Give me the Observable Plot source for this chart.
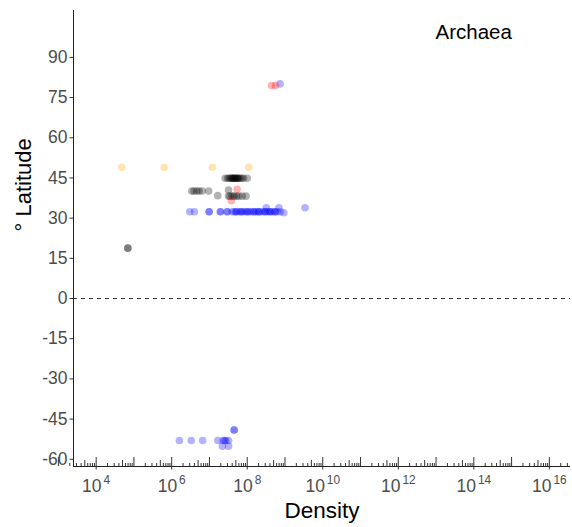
<!DOCTYPE html>
<html><head><meta charset="utf-8">
<script src="https://cdn.jsdelivr.net/npm/d3@7"></script>
<script src="https://cdn.jsdelivr.net/npm/@observablehq/plot@0.6"></script>
<style>
body{margin:0;background:#fff;}
#chart svg{font-family:"Liberation Sans",Arial,sans-serif;}
</style>
</head><body><div id="chart"></div>
<script>
// ---- data (density in cells, latitude in degrees) ----
const blackDensity = [6.9e4, 6.9e4,
  3.4e6, 3.9e6, 4.6e6, 5.3e6, 6.4e6, 9.5e6,
  3.2e7, 1.66e7,
  3.2e7, 3.5e7, 4.0e7, 4.5e7, 5.2e7, 6.0e7, 7.4e7, 9.3e7,
  2.6e7, 3.0e7, 3.3e7, 3.6e7, 3.9e7, 4.2e7, 4.5e7, 4.8e7, 5.2e7, 5.6e7, 6.0e7, 6.5e7, 7.2e7, 8.0e7, 4.0e7, 4.6e7, 5.4e7, 1.0e8];
const blackLat = [18.8, 18.8,
  40.1, 40.1, 40.1, 40.1, 40.1, 40.1,
  40.5, 38.4,
  38.2, 38.2, 38.2, 38.2, 38.2, 38.2, 38.2, 38.2,
  44.9, 44.9, 44.9, 44.9, 44.9, 44.9, 44.9, 44.9, 44.9, 44.9, 44.9, 44.9, 44.9, 44.9, 44.9, 44.9, 44.9, 44.9];

const blueDensity = [3.0e6, 4.0e6, 9.8e6, 9.8e6, 1.95e7, 1.95e7, 2.95e7, 2.95e7,
  4.0e7, 4.6e7, 5.3e7, 6.2e7, 7.1e7, 8.2e7, 9.5e7, 1.1e8, 1.25e8, 1.45e8, 1.7e8, 1.95e8,
  2.2e8, 2.6e8, 3.0e8, 3.5e8, 4.0e8, 4.6e8, 5.3e8, 6.2e8, 7.5e8,
  5.0e7, 7.0e7, 1.0e8, 1.5e8, 2.0e8, 3.0e8, 4.0e8, 5.5e8, 9.3e8,
  3.2e8, 6.9e8, 3.4e9,
  1.6e6, 3.3e6, 6.6e6, 1.66e7, 2.3e7, 2.5e7, 2.7e7, 3.2e7, 2.2e7, 3.2e7, 4.5e7, 4.5e7,
  7.4e8];
const blueLat = [32.4, 32.4, 32.4, 32.4, 32.4, 32.4, 32.4, 32.4,
  32.4, 32.4, 32.4, 32.4, 32.4, 32.4, 32.4, 32.4, 32.4, 32.4, 32.4, 32.4,
  32.4, 32.4, 32.4, 32.4, 32.4, 32.4, 32.4, 32.4, 32.4,
  32.4, 32.4, 32.4, 32.4, 32.4, 32.4, 32.4, 32.4, 32.0,
  33.9, 33.9, 33.9,
  -53.0, -53.0, -53.0, -53.0, -53.0, -53.0, -53.0, -53.0, -55.1, -55.1, -49.1, -49.1,
  80.1];

const redDensity = [4.4e8, 5.6e8, 5.4e7, 3.8e7];
const redLat = [79.5, 79.5, 40.8, 36.5];

const orangeDensity = [4.8e4, 6.3e5, 1.2e7, 1.1e8];
const orangeLat = [49, 49, 49, 49];

const groupNames = ["black", "blue", "red", "orange"];
const groupColors = ["#000000", "#0000FF", "#FF0000", "#FFA500"];

const yTicks = [-60, -45, -30, -15, 0, 15, 30, 45, 60, 75, 90];
const xLabelExponents = [4, 6, 8, 10, 12, 14, 16];
const titleText = "Archaea";
const xTitle = "Density";
const yTitle = "° Latitude";

// ---- build table ----
const rows = [];
[[blackDensity, blackLat, "black"], [blueDensity, blueLat, "blue"],
 [redDensity, redLat, "red"], [orangeDensity, orangeLat, "orange"]].forEach(([xs, ys, g]) => {
  xs.forEach((x, i) => rows.push({density: x, lat: ys[i], group: g}));
});

const xDomain = [Math.pow(10, 3.4), Math.pow(10, 16.56)];
const yDomain = [-62.7, 107.5];
const H = 527, mt = 10, mb = 61;
const frameH = H - mt - mb;

const decadeTicks = d3.range(3, 17).map(k => Math.pow(10, k));
const midTicks = d3.range(3, 17).map(k => 5 * Math.pow(10, k));
const shortTicks = d3.range(3, 17).flatMap(k => [2, 3, 4, 6, 7, 8, 9].map(m => m * Math.pow(10, k))).filter(v => v <= xDomain[1]);
const labelTicks = xLabelExponents.map(e => Math.pow(10, e));

const chart = Plot.plot({
  width: 572,
  height: H,
  marginLeft: 73,
  marginRight: 2,
  marginTop: mt,
  marginBottom: mb,
  x: {type: "log", domain: xDomain},
  y: {domain: yDomain},
  color: {domain: groupNames, range: groupColors},
  style: {fontFamily: "Liberation Sans, Arial, sans-serif", background: "#fff"},
  marks: [
    Plot.ruleY([0], {stroke: "#333", strokeWidth: 1, strokeDasharray: "4,4"}),
    Plot.ruleX(shortTicks, {x: d => d, insetTop: frameH - 3, stroke: "#333"}),
    Plot.ruleX(midTicks, {x: d => d, insetTop: frameH - 6, stroke: "#333"}),
    Plot.ruleX(decadeTicks, {x: d => d, insetTop: frameH - 9, stroke: "#333"}),
    Plot.axisX({ticks: labelTicks, tickSize: 3.5, tickPadding: 10, fontSize: 17.5, color: "#4d4d4d", stroke: "#333",
      tickFormat: d => "10^" + Math.round(Math.log10(d)), label: null}),
    Plot.axisY({ticks: yTicks, tickSize: 3.5, tickPadding: 2.5, fontSize: 17.5, color: "#4d4d4d", stroke: "#333",
      tickFormat: d => String(d), label: null}),
    Plot.ruleX([xDomain[0]], {stroke: "#222"}),
    Plot.ruleY([yDomain[0]], {stroke: "#222"}),
    Plot.dot(rows, {x: "density", y: "lat", fill: "group", r: 3.8, fillOpacity: 0.3, stroke: null}),
    Plot.text([titleText], {frameAnchor: "top-right", dx: -135, dy: 22, textAnchor: "start", lineAnchor: "middle", fontSize: 20.5, fill: "#000"}),
    Plot.text([xTitle], {frameAnchor: "bottom", dy: 44.5, lineAnchor: "middle", fontSize: 22.5, fill: "#000"}),
    Plot.text([yTitle], {frameAnchor: "left", dx: -50, dy: -7, rotate: -90, lineAnchor: "middle", fontSize: 22, fill: "#000"})
  ]
});

// explicit font sizes on the tick labels
d3.select(chart).selectAll('g[aria-label="x-axis tick label"], g[aria-label="y-axis tick label"]')
  .attr("font-size", 17.5).attr("fill", "#4d4d4d");
d3.select(chart).selectAll('g[aria-label="x-axis tick label"] text, g[aria-label="y-axis tick label"] text')
  .style("font-size", "17.5px");

// render exponents as superscripts
d3.select(chart).selectAll('g[aria-label="x-axis tick label"] text').each(function() {
  const t = this.textContent;
  if (!t.includes("^")) return;
  const [base, exp] = t.split("^");
  const sel = d3.select(this);
  sel.text(null);
  sel.append("tspan").text(base);
  sel.append("tspan").attr("dx", "2").attr("dy", "-0.7em").style("font-size", "0.68em").text(exp);
});

document.getElementById("chart").append(chart);
</script>
</body></html>
